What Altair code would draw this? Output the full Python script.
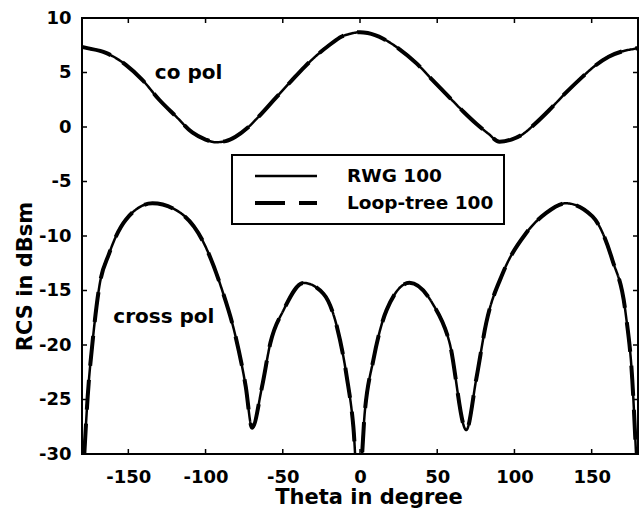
import altair as alt
import pandas as pd

# ---- data ----
methods = ["RWG 100", "Loop-tree 100"]

co_theta = [-180, -178.7, -164.5, -151.6, -140.8, -130, -119, -108.6, -100, -93.5, -87, -80.6,
            -73, -65.6, -55, -44, -36, -29, -20, -11.8, -5, 0, 5, 15, 25, 36.6, 47, 58, 67,
            75.3, 83, 90.3, 98, 105, 113, 122.6, 133, 144, 152, 161, 170, 178.5, 180]
co_rcs = [7.35, 7.3, 6.8, 5.7, 4.3, 2.5, 0.95, -0.5, -1.15, -1.4, -1.3, -0.9,
          -0.1, 0.95, 2.6, 4.3, 5.5, 6.45, 7.5, 8.3, 8.6, 8.7, 8.62, 8.1, 7.2, 5.84, 4.3, 2.7, 1.4,
          0.3, -0.6, -1.35, -1.15, -0.7, 0.25, 1.56, 3.1, 4.6, 5.6, 6.45, 6.95, 7.2, 7.25]

cross_theta = [-180, -178.5, -176.3, -173, -168.8, -162.4, -151.6, -134.4, -119.4, -102, -89.2,
               -80.6, -74, -69.9, -63.4, -58, -49.5, -36.6, -23.7, -15, -8.6, -4.3, -1,
               3.2, 8.6, 17.2, 32, 47, 58, 68.8, 75.3, 81.7, 92.5, 107.5, 120.4, 133.3, 150.5,
               163.4, 172, 176.3, 178.5, 180]
cross_rcs = [-34, -30, -24.7, -19.5, -14.65, -11.6, -8.5, -7.0, -7.6, -10.4, -15,
             -19.2, -23.8, -27.6, -23.8, -19.8, -16.8, -14.3, -15.3, -18.3, -22.9, -27.5, -34,
             -26, -21.4, -16.8, -14.3, -16.2, -19.8, -27.8, -23.1, -18, -13.4, -9.75, -7.9, -7.0, -8.2,
             -12.2, -17.1, -23.2, -29.3, -34]

x_ticks = [-150, -100, -50, 0, 50, 100, 150]
y_ticks = [-30, -25, -20, -15, -10, -5, 0, 5, 10]
inner_y_ticks = [-25, -20, -15, -10, -5, 0, 5]

label_text = ["co pol", "cross pol"]
label_theta = [-111, -127]
label_rcs = [5.0, -17.4]

rows = []
for m in methods:
    for pol, th, vals in [("co", co_theta, co_rcs), ("cross", cross_theta, cross_rcs)]:
        for t, v in zip(th, vals):
            rows.append({"method": m, "pol": pol, "theta": t, "rcs": v})
df = pd.DataFrame(rows)

W, H = 556, 436
FONT = "DejaVu Sans"
TL = 5

xscale = alt.Scale(domain=[-180, 180], nice=False, zero=False)
yscale = alt.Scale(domain=[-30, 10], nice=False, zero=False)

common = dict(grid=False, domain=False, ticks=False, tickSize=0,
              labelFont=FONT, labelFontSize=18, labelFontWeight="bold", labelColor="black",
              labelFlush=False, labelOverlap=False, labelExpr="datum.value + ''",
              titleFont=FONT, titleFontSize=21, titleFontWeight="bold", titleColor="black")

xaxis = alt.Axis(values=x_ticks, title="Theta in degree", labelPadding=14,
                 titleX=286.5, titleY=49, titleBaseline="alphabetic", **common)
yaxis = alt.Axis(values=y_ticks, title="RCS in dBsm", labelPadding=11,
                 titleX=-57, titleY=258, titleBaseline="middle", **common)

leg = alt.Legend(title=None, orient="none", legendX=150, legendY=137, direction="vertical",
                 strokeColor="black", fillColor="white", padding=10, symbolType="stroke",
                 symbolSize=3844, symbolStrokeColor="black", symbolOffset=11, labelOffset=28,
                 labelFont=FONT, labelFontSize=18.5, labelFontWeight="bold", labelColor="black",
                 clipHeight=22, rowPadding=5)

lines = alt.Chart(df).mark_line(clip=True, color="black", interpolate="monotone").encode(
    x=alt.X("theta:Q", scale=xscale, axis=xaxis),
    y=alt.Y("rcs:Q", scale=yscale, axis=yaxis),
    strokeDash=alt.StrokeDash("method:N", scale=alt.Scale(domain=methods, range=[[1, 0], [30, 14]]), legend=leg),
    strokeWidth=alt.StrokeWidth("method:N", scale=alt.Scale(domain=methods, range=[2.5, 4]), legend=leg),
    detail="pol:N",
)

xt = pd.DataFrame({"theta": x_ticks})
yt = pd.DataFrame({"rcs": inner_y_ticks})

bottom_ticks = alt.Chart(xt).mark_rule(color="black", strokeWidth=1.5).encode(
    x=alt.X("theta:Q", scale=xscale), y=alt.value(H), y2=alt.value(H - TL))
top_ticks = alt.Chart(xt).mark_rule(color="black", strokeWidth=1.5).encode(
    x=alt.X("theta:Q", scale=xscale), y=alt.value(0), y2=alt.value(TL))
left_ticks = alt.Chart(yt).mark_rule(color="black", strokeWidth=1.5).encode(
    y=alt.Y("rcs:Q", scale=yscale), x=alt.value(0), x2=alt.value(TL))
right_ticks = alt.Chart(yt).mark_rule(color="black", strokeWidth=1.5).encode(
    y=alt.Y("rcs:Q", scale=yscale), x=alt.value(W), x2=alt.value(W - TL))

ldf = pd.DataFrame({"label": label_text, "theta": label_theta, "rcs": label_rcs})
labels = alt.Chart(ldf).mark_text(font=FONT, fontSize=20, fontWeight="bold", color="black").encode(
    x=alt.X("theta:Q", scale=xscale), y=alt.Y("rcs:Q", scale=yscale), text="label:N")

chart = alt.layer(bottom_ticks, top_ticks, left_ticks, right_ticks, lines, labels).properties(
    width=W, height=H,
    autosize=alt.AutoSizeParams(type="none"),
    padding={"left": 82, "top": 18, "right": 1, "bottom": 62},
    background="white",
).configure_view(stroke="black", strokeWidth=2).configure_legend(strokeWidth=2).configure_axis(
    labelFontWeight="bold", labelFont=FONT, labelFontSize=18)

chart.save("out.html", embed_options={"renderer": "svg", "actions": False})
